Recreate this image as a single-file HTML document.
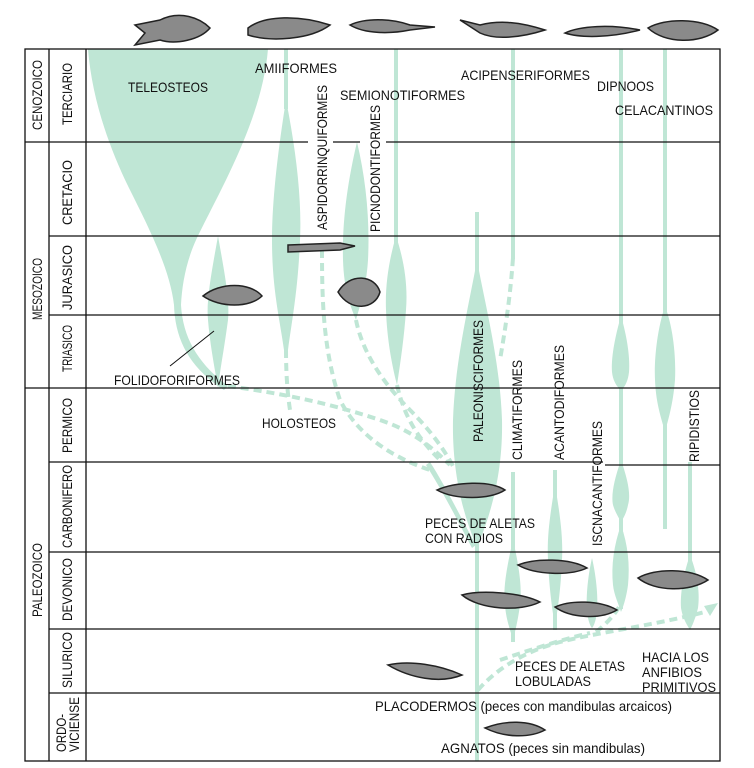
<!DOCTYPE html>
<html><head><meta charset="utf-8"><style>
body{margin:0;background:#fff}
svg{display:block}
text{font-family:"Liberation Sans Narrow","Liberation Sans",sans-serif;font-size:14px;fill:#111}
</style></head><body>
<svg width="754" height="768" viewBox="0 0 754 768" xmlns="http://www.w3.org/2000/svg">
<g fill="#bfe6d5" stroke="none">
<path d="M88,49 L268,49 C262,120 220,190 196,240 C186,262 182,285 181,305 C183,340 200,365 228,386 L224,390 C190,368 175,340 174,305 C170,270 150,230 130,190 C110,150 92,100 88,49Z"/>
<path d="M218,236 C224,270 230,300 228,320 C224,350 220,370 218,388 C215,370 210,345 208,320 C206,300 212,270 218,236Z"/>
<rect x="284" y="49" width="4" height="60"/>
<path d="M286,100 C296,150 302,200 300,240 C298,290 292,320 288,350 L284,350 C280,320 272,290 272,240 C272,200 278,150 286,100Z"/>
<path d="M357,142 C366,180 370,220 368,260 C366,290 360,305 356,320 C350,305 344,290 343,260 C342,220 348,180 357,142Z"/>
<rect x="394" y="49" width="4" height="195"/>
<path d="M396,236 C404,260 408,285 406,310 C404,340 400,365 397,385 C392,365 387,340 386,310 C385,285 389,260 396,236Z"/>
<rect x="511" y="49" width="4" height="210"/>
<rect x="475" y="212" width="4" height="549"/>
<path d="M477,260 C484,300 500,360 502,420 C503,470 492,510 480,540 L474,540 C462,510 452,470 453,420 C455,360 470,300 477,260Z"/>
<rect x="619" y="49" width="4" height="560"/>
<path d="M621,316 C628,340 630,360 629,372 C628,382 624,388 621,390 C618,388 613,382 612,372 C611,360 614,340 621,316Z"/>
<path d="M621,460 C628,480 631,495 628,505 C626,515 622,520 621,522 C619,518 615,512 613,505 C611,495 614,480 621,460Z"/>
<path d="M621,525 C628,545 630,565 628,585 C626,600 622,610 621,612 C619,605 614,595 613,585 C611,565 614,545 621,525Z"/>
<rect x="663" y="49" width="4" height="480"/>
<path d="M665,306 C674,330 676,360 675,380 C673,405 668,420 665,432 C662,420 656,405 655,380 C654,360 657,330 665,306Z"/>
<rect x="688" y="462" width="4" height="100"/>
<path d="M690,555 C698,575 700,595 698,608 C695,620 692,626 690,630 C688,626 683,620 681,608 C680,595 683,575 690,555Z"/>
<rect x="511" y="472" width="4" height="170"/>
<path d="M513,540 C520,570 522,590 520,605 C518,620 515,632 513,640 C511,632 506,620 505,605 C503,590 506,570 513,540Z"/>
<rect x="553" y="470" width="4" height="160"/>
<path d="M555,485 C561,520 563,540 562,560 C561,585 558,610 555,625 C552,610 549,585 548,560 C547,540 549,520 555,485Z"/>
<path d="M592,558 C597,580 598,600 597,612 C596,620 594,626 592,628 C590,626 588,620 587,612 C586,600 587,580 592,558Z"/>
<path d="M430,462 C445,485 462,520 476,545 L472,548 C460,525 442,490 426,465Z"/>
</g>
<g fill="none" stroke="#bfe6d5" stroke-width="4" stroke-dasharray="8,5">
<path d="M286,350 C286,370 287,390 290,410"/>
<path d="M322,250 C322,300 323,350 340,400 C360,440 400,460 430,470"/>
<path d="M356,320 C362,350 380,380 410,410 C430,430 445,450 455,470"/>
<path d="M397,385 C405,420 420,440 440,460"/>
<path d="M513,258 C510,300 505,330 500,360"/>
<path d="M228,386 C270,392 320,400 380,420 C410,430 430,445 450,465"/>
<path d="M478,690 C500,665 530,650 560,642 C600,632 650,626 705,612"/>
<path d="M500,660 C530,650 560,640 590,633"/>
<path d="M596,632 C605,625 615,615 620,605"/>
</g>
<path d="M704,606 L718,603 L710,616 Z" fill="#bfe6d5"/>
<g stroke="#111" stroke-width="1.3" fill="none">
<rect x="25" y="49" width="695" height="712"/>
<line x1="49" y1="49" x2="49" y2="761"/>
<line x1="86" y1="49" x2="86" y2="761"/>
<line x1="25" y1="142" x2="308" y2="142"/><line x1="333" y1="142" x2="360" y2="142"/><line x1="386" y1="142" x2="720" y2="142"/>
<line x1="49" y1="236" x2="720" y2="236"/>
<line x1="49" y1="315" x2="720" y2="315"/>
<line x1="25" y1="388" x2="720" y2="388"/>
<line x1="49" y1="462" x2="603" y2="462"/><line x1="605" y1="465" x2="720" y2="465"/>
<line x1="49" y1="552" x2="720" y2="552"/>
<line x1="49" y1="629" x2="720" y2="629"/>
<line x1="49" y1="693" x2="720" y2="693"/>
</g>
<g fill="#8a8a8a" stroke="#222" stroke-width="1.5">
<path d="M135,25 L160,20 C180,10 200,18 210,28 C200,40 175,45 160,40 L135,45 L145,33Z"/>
<path d="M248,28 C265,15 300,15 330,25 C310,40 270,42 248,35Z"/>
<path d="M350,25 C365,18 390,18 410,25 L435,27 L410,30 C390,34 365,34 350,25Z"/>
<path d="M460,20 L480,25 C500,20 520,22 545,30 C520,38 495,40 480,33Z"/>
<path d="M565,33 C580,26 610,24 640,30 C610,38 580,38 565,33Z"/>
<path d="M648,28 C665,18 700,18 718,30 C700,44 665,44 648,28Z"/>
<path d="M288,245 L340,243 L355,246 L340,250 L288,252Z"/>
<path d="M203,296 C220,282 250,282 262,296 C250,308 220,308 203,296Z"/>
<path d="M338,292 C350,272 375,275 380,292 C375,310 350,312 338,292Z"/>
<path d="M437,490 C455,482 490,480 505,490 C490,500 455,500 437,490Z"/>
<path d="M518,565 C535,558 570,558 587,568 C570,576 535,575 518,565Z"/>
<path d="M462,595 C480,590 520,592 540,602 C520,612 480,610 462,595Z"/>
<path d="M555,607 C570,600 600,600 617,610 C600,620 570,618 555,607Z"/>
<path d="M638,578 C655,568 690,568 708,580 C690,592 655,592 638,578Z"/>
<path d="M388,665 C410,660 440,665 462,675 C440,684 410,678 388,665Z"/>
<path d="M485,728 C505,720 530,720 545,730 C530,738 505,738 485,728Z"/>
</g>
<g lengthAdjust="spacingAndGlyphs">
<text transform="translate(42,130) rotate(-90)" textLength="70" lengthAdjust="spacingAndGlyphs">CENOZOICO</text>
<text transform="translate(42,320) rotate(-90)" textLength="62" lengthAdjust="spacingAndGlyphs">MESOZOICO</text>
<text transform="translate(42,617) rotate(-90)" textLength="74" lengthAdjust="spacingAndGlyphs">PALEOZOICO</text>
<text transform="translate(72,125) rotate(-90)" textLength="62" lengthAdjust="spacingAndGlyphs">TERCIARIO</text>
<text transform="translate(72,225) rotate(-90)" textLength="65" lengthAdjust="spacingAndGlyphs">CRETACIO</text>
<text transform="translate(72,310) rotate(-90)" textLength="65" lengthAdjust="spacingAndGlyphs">JURASICO</text>
<text transform="translate(72,372) rotate(-90)" textLength="47" lengthAdjust="spacingAndGlyphs">TRIASICO</text>
<text transform="translate(72,453) rotate(-90)" textLength="55" lengthAdjust="spacingAndGlyphs">PERMICO</text>
<text transform="translate(72,548) rotate(-90)" textLength="83" lengthAdjust="spacingAndGlyphs">CARBONIFERO</text>
<text transform="translate(72,621) rotate(-90)" textLength="63" lengthAdjust="spacingAndGlyphs">DEVONICO</text>
<text transform="translate(72,688) rotate(-90)" textLength="56" lengthAdjust="spacingAndGlyphs">SILURICO</text>
<text transform="translate(66,752) rotate(-90)" textLength="38" lengthAdjust="spacingAndGlyphs">ORDO-</text>
<text transform="translate(79,752) rotate(-90)" textLength="55" lengthAdjust="spacingAndGlyphs">VICIENSE</text>
<text x="128" y="92" textLength="80" lengthAdjust="spacingAndGlyphs">TELEOSTEOS</text>
<text x="255" y="73" textLength="82" lengthAdjust="spacingAndGlyphs">AMIIFORMES</text>
<text x="340" y="100" textLength="125" lengthAdjust="spacingAndGlyphs">SEMIONOTIFORMES</text>
<text x="461" y="80" textLength="129" lengthAdjust="spacingAndGlyphs">ACIPENSERIFORMES</text>
<text x="597" y="91" textLength="57" lengthAdjust="spacingAndGlyphs">DIPNOOS</text>
<text x="615" y="115" textLength="98" lengthAdjust="spacingAndGlyphs">CELACANTINOS</text>
<text x="114" y="385" textLength="126" lengthAdjust="spacingAndGlyphs">FOLIDOFORIFORMES</text>
<text x="262" y="428" textLength="74" lengthAdjust="spacingAndGlyphs">HOLOSTEOS</text>
<text transform="translate(327,230) rotate(-90)" textLength="145" lengthAdjust="spacingAndGlyphs">ASPIDORRINQUIFORMES</text>
<text transform="translate(380,232) rotate(-90)" textLength="127" lengthAdjust="spacingAndGlyphs">PICNODONTIFORMES</text>
<text transform="translate(483,442) rotate(-90)" textLength="122" lengthAdjust="spacingAndGlyphs">PALEONISCIFORMES</text>
<text transform="translate(522,460) rotate(-90)" textLength="100" lengthAdjust="spacingAndGlyphs">CLIMATIFORMES</text>
<text transform="translate(564,460) rotate(-90)" textLength="115" lengthAdjust="spacingAndGlyphs">ACANTODIFORMES</text>
<text transform="translate(602,546) rotate(-90)" textLength="125" lengthAdjust="spacingAndGlyphs">ISCNACANTIFORMES</text>
<text transform="translate(699,462) rotate(-90)" textLength="72" lengthAdjust="spacingAndGlyphs">RIPIDISTIOS</text>
<text x="425" y="528" textLength="110" lengthAdjust="spacingAndGlyphs">PECES DE ALETAS</text>
<text x="425" y="543" textLength="78" lengthAdjust="spacingAndGlyphs">CON RADIOS</text>
<text x="515" y="671" textLength="110" lengthAdjust="spacingAndGlyphs">PECES DE ALETAS</text>
<text x="515" y="686" textLength="76" lengthAdjust="spacingAndGlyphs">LOBULADAS</text>
<text x="642" y="662" textLength="67" lengthAdjust="spacingAndGlyphs">HACIA LOS</text>
<text x="642" y="677" textLength="60" lengthAdjust="spacingAndGlyphs">ANFIBIOS</text>
<text x="642" y="692" textLength="74" lengthAdjust="spacingAndGlyphs">PRIMITIVOS</text>
<text x="375" y="711" textLength="297" lengthAdjust="spacingAndGlyphs">PLACODERMOS (peces con mandibulas arcaicos)</text>
<text x="441" y="753" textLength="204" lengthAdjust="spacingAndGlyphs">AGNATOS (peces sin mandibulas)</text>
</g>
<line x1="170" y1="366" x2="214" y2="331" stroke="#111" stroke-width="1"/>
</svg>
</body></html>
